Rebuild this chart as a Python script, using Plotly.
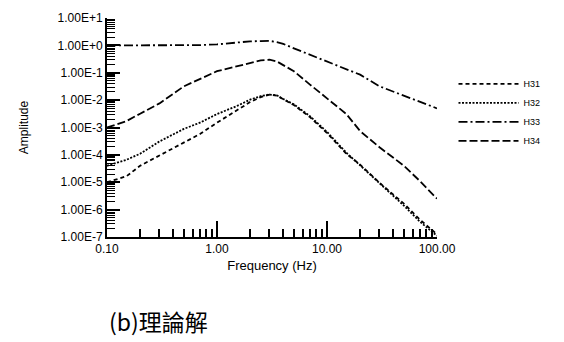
import numpy as np
import plotly.graph_objects as go

freq = [0.1, 0.15, 0.2, 0.3, 0.5, 0.7, 1, 1.5, 2, 2.5, 3, 3.5, 4, 5, 7, 10, 15, 20, 30, 50, 70, 100]

h31 = [1.0e-5, 1.65e-5, 4.0e-5, 9.5e-5, 2.7e-4, 5.8e-4, 1.5e-3, 4.0e-3, 8.5e-3, 1.29e-2, 1.58e-2, 1.45e-2,
       1.1e-2, 6.6e-3, 2.4e-3, 6.3e-4, 1.1e-4, 4.4e-5, 9.6e-6, 1.65e-6, 4.3e-7, 1.25e-7]
h32 = [4.0e-5, 6.6e-5, 1.1e-4, 3.1e-4, 8.9e-4, 1.5e-3, 3.1e-3, 6.0e-3, 1.04e-2, 1.4e-2, 1.6e-2, 1.5e-2,
       1.1e-2, 7.0e-3, 2.6e-3, 6.9e-4, 1.2e-4, 4.2e-5, 8.9e-6, 1.4e-6, 3.6e-7, 1.1e-7]
h33 = [1.0, 1.0, 1.0, 1.0, 1.0, 1.02, 1.09, 1.29, 1.4, 1.43, 1.46, 1.32,
       1.13, 0.78, 0.46, 0.26, 0.134, 0.085, 0.032, 0.0146, 0.0085, 0.005]
h34 = [1.0e-3, 1.7e-3, 3.2e-3, 7.6e-3, 3.2e-2, 6.0e-2, 0.114, 0.17, 0.227, 0.285, 0.30, 0.26,
       0.19, 0.114, 0.037, 0.0118, 3.1e-3, 7.4e-4, 1.9e-4, 4.0e-5, 1.1e-5, 2.5e-6]

series_names = ["H31", "H32", "H33", "H34"]
x_tick_vals = [0.1, 1, 10, 100]
x_tick_text = ["0.10", "1.00", "10.00", "100.00"]
y_exps = list(range(1, -8, -1))
y_tick_vals = [10.0 ** e for e in y_exps]
y_tick_text = ["1.00E+1", "1.00E+0", "1.00E-1", "1.00E-2", "1.00E-3",
               "1.00E-4", "1.00E-5", "1.00E-6", "1.00E-7"]

x_minor = [k * 10.0 ** e for e in range(-1, 2) for k in range(2, 10)]
y_minor = [k * 10.0 ** e for e in range(-7, 1) for k in range(2, 10)]

dashes = ["4px,3px", "2px,1.5px", "9px,3px,2px,3px", "8px,3px"]

fig = go.Figure()
for name, ys, d in zip(series_names, [h31, h32, h33, h34], dashes):
    fig.add_trace(go.Scatter(x=freq, y=ys, mode="lines", name=name,
                             line=dict(color="black", width=1.8, dash=d)))

font_main = "Liberation Sans, Arial, sans-serif"
fig.update_layout(
    width=564, height=342,
    margin=dict(l=107, r=127, t=18, b=105, autoexpand=False),
    paper_bgcolor="white", plot_bgcolor="white",
    font=dict(family=font_main, color="black", size=11),
    legend=dict(x=1.05, y=0.765, xanchor="left", yanchor="top",
                font=dict(size=9, family=font_main), itemwidth=60,
                bgcolor="rgba(0,0,0,0)", tracegroupgap=0),
    xaxis=dict(type="log", range=[-1, 2], tickmode="array", automargin=False,
               tickvals=x_tick_vals, ticktext=x_tick_text,
               ticks="inside", ticklen=16, tickwidth=1.5, tickcolor="black",
               showline=True, linecolor="black", linewidth=2, showgrid=False,
               zeroline=False, tickfont=dict(size=12),
               minor=dict(tickmode="array", tickvals=x_minor, ticks="inside",
                          ticklen=8, tickwidth=1.5, tickcolor="black", showgrid=False),
               title=dict(text="Frequency (Hz)", font=dict(size=13), standoff=5)),
    yaxis=dict(type="log", range=[-7, 1], tickmode="array", automargin=False,
               tickvals=y_tick_vals, ticktext=y_tick_text,
               ticks="inside", ticklen=13, tickwidth=1.5, tickcolor="black",
               showline=True, linecolor="black", linewidth=2, showgrid=False,
               zeroline=False, tickfont=dict(size=12),
               minor=dict(tickmode="array", tickvals=y_minor, ticks="inside",
                          ticklen=8, tickwidth=1, tickcolor="black", showgrid=False),
               title=dict(text="Amplitude", font=dict(size=12), standoff=26)),
    annotations=[dict(text="(b)理論解", xref="paper", yref="paper",
                      x=0.0, y=-0.385, xanchor="left", yanchor="middle",
                      showarrow=False,
                      font=dict(size=23, family="Noto Sans CJK TC, Noto Sans CJK JP, sans-serif"))],
)

fig.write_html("out.html", config={"displayModeBar": False},
               post_script="document.body.style.margin='0';document.body.style.overflow='hidden';")
